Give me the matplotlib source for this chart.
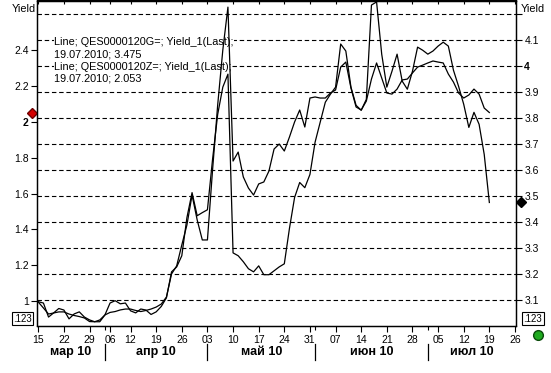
import numpy as np
import pandas as pd
import matplotlib
matplotlib.use("Agg")
import matplotlib.pyplot as plt
import matplotlib.transforms as mtransforms
from matplotlib.lines import Line2D

plt.rcParams["font.family"] = ["Liberation Sans", "DejaVu Sans"]

# trading days, Good Friday / Easter Monday closed
holidays = ["2010-04-02", "2010-04-05"]
days = pd.bdate_range("2010-03-15", "2010-07-26")
days = days[~days.isin(pd.to_datetime(holidays))]

# QES0000120Z= (left axis)
z_yield = [
    0.994, 0.961, 0.927, 0.933, 0.939, 0.939, 0.927, 0.919, 0.913, 0.905,
    0.885, 0.884, 0.894, 0.922, 0.936, 0.941, 0.950, 0.955, 0.955, 0.947,
    0.941, 0.947, 0.955, 0.966, 0.983, 1.022, 1.151, 1.196, 1.313, 1.425,
    1.592, 1.453, 1.341, 1.341, 1.732, 2.095, 2.402, 2.642, 1.782, 1.832,
    1.693, 1.631, 1.592, 1.654, 1.665, 1.726, 1.849, 1.877, 1.838, 1.916,
    2.000, 2.067, 1.972, 2.134, 2.140, 2.134, 2.134, 2.162, 2.179, 2.307,
    2.335, 2.190, 2.084, 2.067, 2.117, 2.240, 2.330, 2.246, 2.162, 2.156,
    2.184, 2.235, 2.240, 2.274, 2.307, 2.318, 2.330, 2.341, 2.335, 2.330,
    2.268, 2.223, 2.162, 2.134, 2.151, 2.184, 2.156, 2.078, 2.053,
]
# QES0000120G= (right axis)
g_yield = [
    3.093, 3.088, 3.034, 3.050, 3.067, 3.061, 3.027, 3.046, 3.054, 3.034,
    3.023, 3.016, 3.016, 3.042, 3.088, 3.097, 3.085, 3.088, 3.058, 3.050,
    3.065, 3.061, 3.044, 3.054, 3.075, 3.108, 3.208, 3.227, 3.270, 3.417,
    3.513, 3.424, 3.436, 3.447, 3.641, 3.814, 3.919, 3.969, 3.281, 3.270,
    3.247, 3.220, 3.208, 3.231, 3.197, 3.197, 3.212, 3.227, 3.239, 3.375,
    3.494, 3.552, 3.532, 3.583, 3.707, 3.784, 3.861, 3.892, 3.919, 4.085,
    4.058, 3.919, 3.849, 3.830, 3.872, 4.235, 4.247, 4.046, 3.919, 3.980,
    4.046, 3.942, 3.911, 3.980, 4.073, 4.061, 4.046, 4.058, 4.077, 4.092,
    4.077, 3.984, 3.922, 3.853, 3.764, 3.822, 3.776, 3.660, 3.475,
]
z_last = 2.053
g_last = 3.475

left_ticks = [1.0, 1.2, 1.4, 1.6, 1.8, 2.0, 2.2, 2.4]
left_labels = ["1", "1.2", "1.4", "1.6", "1.8", "2", "2.2", "2.4"]
right_ticks = [3.1, 3.2, 3.3, 3.4, 3.5, 3.6, 3.7, 3.8, 3.9, 4.0, 4.1, 4.2]
right_labels = ["3.1", "3.2", "3.3", "3.4", "3.5", "3.6", "3.7", "3.8", "3.9", "4", "4.1", ""]
months = ["мар 10", "апр 10", "май 10", "июн 10", "июл 10"]

legend_lines = [
    "Line; QES0000120G=; Yield_1(Last);",
    f"19.07.2010; {g_last:.3f}",
    "Line; QES0000120Z=; Yield_1(Last);",
    f"19.07.2010; {z_last:.3f}",
]

x = np.arange(len(z_yield))
week = days.isocalendar().week.values
week_starts = [0] + [i for i in range(1, len(days)) if week[i] != week[i - 1]]
month_starts = [i for i in range(1, len(days)) if days[i].month != days[i - 1].month]

W, H = 551, 373
fig = plt.figure(figsize=(W / 100, H / 100), dpi=100)
ax = fig.add_axes([37 / W, (H - 325.5) / H, 479 / W, 325 / H])
ax2 = ax.twinx()
ax.set_zorder(ax2.get_zorder() + 1)
ax.patch.set_visible(False)

xlim = (-0.25, 93.2)
ax.set_xlim(*xlim)
ax.set_ylim(0.863, 2.679)
ax2.set_ylim(3.0015, 4.2525)

# grid lives on the lower (right) axes, both lines on the upper one
ax2.grid(axis="y", linestyle=(0, (4, 2.5)), color="black", linewidth=0.8)
ax.plot(x, g_yield, color="black", linewidth=0.9, transform=ax2.transData)
ax.plot(x, z_yield, color="black", linewidth=0.9)

ax.set_yticks(left_ticks)
ax.set_yticklabels(left_labels)
ax2.set_yticks(right_ticks)
ax2.set_yticklabels(right_labels)
for t in ax.get_yticklabels():
    if t.get_text() == "2":
        t.set_fontweight("bold")
for t in ax2.get_yticklabels():
    if t.get_text() == "4":
        t.set_fontweight("bold")

ax.set_xticks(week_starts)
ax.set_xticklabels([days[i].strftime("%d") for i in week_starts])
ax.set_xticks(month_starts, minor=True)

for a in (ax, ax2):
    a.tick_params(axis="y", direction="out", length=4, width=0.8, labelsize=7.5, pad=2)
    for s in a.spines.values():
        s.set_color("black")
        s.set_linewidth(0.9)
ax.tick_params(axis="x", which="major", direction="out", length=4, width=0.8,
               labelsize=7.5, pad=2.5)
ax.tick_params(axis="x", which="minor", direction="out", length=3, width=0.8)

# small inward ticks along the top edge
top = ax.secondary_xaxis("top")
top.set_xticks(week_starts)
top.tick_params(direction="in", length=3, width=0.8, labeltop=False)
top.spines["top"].set_linewidth(0.9)

# month labels and separators under the day labels
trans = mtransforms.blended_transform_factory(ax.transData, ax.transAxes)
bounds = [xlim[0]] + month_starts + [xlim[1]]
for name, a0, a1 in zip(months, bounds[:-1], bounds[1:]):
    ax.text((a0 + a1) / 2, -0.082, name, transform=trans, ha="center", va="center",
            fontsize=9, fontweight="bold", clip_on=False)
for m in month_starts:
    ax.add_line(Line2D([m, m], [-0.058, -0.106], transform=trans, color="black",
                       linewidth=0.9, clip_on=False))

# legend text block: hides the grid but sits under the lines
for k, line in enumerate(legend_lines):
    ypx = 42 + 12.3 * k
    ax.text(0.036, 1 - (ypx - 0.5) / 325, line, transform=ax.transAxes, fontsize=7.8,
            va="center", ha="left", zorder=1.5,
            bbox=dict(facecolor="white", edgecolor="none", pad=0.3))

# last value markers on both axes
ax.plot([-0.0105], [z_last], marker="D", markersize=5.5, color="#d40000",
        markeredgecolor="#700000", transform=mtransforms.blended_transform_factory(
            ax.transAxes, ax.transData), clip_on=False)
ax2.plot([1.0105], [g_last], marker="D", markersize=5.5, color="black",
         transform=mtransforms.blended_transform_factory(ax2.transAxes, ax2.transData),
         clip_on=False)

fig.text(12 / W, 1 - 8.5 / H, "Yield", fontsize=7.8, va="center", ha="left")
fig.text(521 / W, 1 - 8.5 / H, "Yield", fontsize=7.8, va="center", ha="left")

box = dict(facecolor="white", edgecolor="black", linewidth=0.8, boxstyle="square,pad=0.15")
fig.text(22.5 / W, 1 - 318.5 / H, ".123", fontsize=7, ha="center", va="center", bbox=box)
fig.text(533 / W, 1 - 318.5 / H, ".123", fontsize=7, ha="center", va="center", bbox=box)
fig.add_artist(Line2D([538 / W], [1 - 335 / H], transform=fig.transFigure, marker="o",
                      markersize=7, markerfacecolor="#1faa1f", markeredgecolor="#0a4a0a"))

fig.savefig("out.png", dpi=100)
